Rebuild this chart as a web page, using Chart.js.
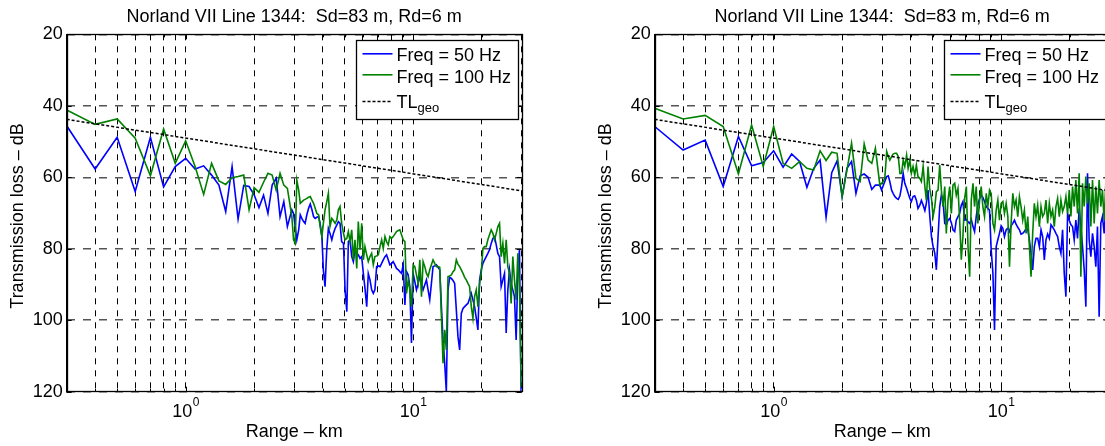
<!DOCTYPE html>
<html><head><meta charset="utf-8">
<script src="https://cdn.jsdelivr.net/npm/chart.js@4.4.1/dist/chart.umd.min.js"></script>
<style>
html,body{margin:0;padding:0;background:#fff;overflow:hidden;width:1105px;height:446px;}
#wrap{position:relative;width:1105px;height:446px;overflow:hidden;background:#fff;}
.panel{position:absolute;top:0;width:560px;height:446px;}
</style></head><body>
<div id="wrap">
<div class="panel" style="left:0px"><canvas id="c1" width="560" height="446"></canvas></div>
<div class="panel" style="left:588px"><canvas id="c2" width="560" height="446"></canvas></div>
</div>
<script>
// ---- data (range in km, transmission loss in dB) ----
const ranges = [0.3,0.4,0.5,0.6,0.7,0.8,0.9,1.0,1.1,1.2,1.3,1.4,1.5,1.6,1.7,1.8,1.9,2.0,2.1,2.2,2.3,2.4,2.5,2.6,2.7,2.8,
 2.93,2.98,3.03,3.08,3.14,3.19,3.24,3.30,3.35,3.41,
 3.47,3.53,3.59,3.65,3.71,3.77,3.84,3.90,3.97,4.03,
 4.10,4.17,4.24,4.31,4.39,4.46,4.54,4.62,4.69,4.77,
 4.85,4.94,5.02,5.11,5.19,5.28,5.37,5.46,5.55,5.65,
 5.74,5.84,5.94,6.04,6.14,6.25,6.35,6.46,6.57,6.68,
 6.79,6.91,7.03,7.15,7.27,7.39,7.52,7.64,7.77,7.90,
 8.04,8.17,8.31,8.45,8.60,8.74,8.89,9.04,9.20,9.35,
 9.51,9.67,9.83,10.0,10.17,10.34,10.52,10.70,10.88,11.06,
 11.25,11.44,11.63,11.83,12.03,12.23,12.44,12.65,12.87,13.09,
 13.31,13.53,13.76,13.99,14.23,14.47,14.72,14.97,15.22,15.48,
 15.74,16.01,16.28,16.56,16.84,17.12,17.41,17.71,18.01,18.31,
 18.62,18.94,19.26,19.59,19.92,20.26,20.60,20.95,21.30,21.66,
 22.03,22.41,22.79,23.18,23.57,23.97,24.37,24.79,25.21,25.64,
 26.07,26.51,26.96,27.42,27.88,28.36,28.84,29.33,29.82];

const leftTL50 = [45.6,57.7,48.8,64.0,48.8,62.7,57.0,54.7,57.7,56.8,59.4,62.2,69.6,57.0,71.7,62.3,62.6,64.9,68.5,65.0,70.1,62.2,60.3,71.0,66.8,73.8,
 69.1,70.1,73.8,77.5,74.7,70.5,71.5,72.4,72.9,70.5,
 68.7,67.5,69.1,71.0,71.5,71.2,71.0,72.9,76.6,85.9,
 90.6,80.3,74.3,75.7,77.5,75.7,74.3,73.3,72.4,72.9,
 78.0,78.5,91.5,97.6,78.0,77.5,82.2,83.6,80.3,81.3,
 81.7,82.7,82.2,86.9,91.0,96.2,86.9,88.7,91.5,92.5,
 91.5,85.0,84.8,85.0,84.1,83.1,82.2,81.7,83.1,84.5,
 84.1,83.6,84.5,85.5,85.9,86.4,86.9,84.5,95.7,86.4,
 87.3,90.6,106.4,86.9,89.2,91.5,89.7,87.8,89.7,91.5,
 90.1,88.7,91.5,94.3,89.7,85.0,84.8,84.5,85.2,85.9,
 96.2,105.5,112.0,120.0,91.5,88.0,88.3,88.9,89.7,97.1,
 104.6,108.3,98.1,96.7,96.2,95.7,95.3,93.9,92.5,94.3,
 96.2,99.4,102.7,88.7,85.9,84.1,83.1,82.2,81.3,80.3,
 78.5,77.1,76.6,78.9,81.3,82.2,90.6,88.7,86.9,103.6,
 91.5,85.9,89.7,91.5,93.4,105.5,86.9,80.3,120.0];

const leftTL100 = [41.2,45.2,43.7,49.1,59.6,46.5,56.1,49.8,57.0,64.8,56.1,61.0,62.0,60.1,59.8,59.4,69.1,62.9,64.2,61.4,58.9,59.4,63.6,58.9,62.2,63.1,
 71.0,77.5,78.5,60.8,63.6,67.3,66.9,66.4,66.2,65.9,
 65.6,65.4,66.4,67.3,68.7,70.1,70.5,73.8,76.6,72.9,
 69.1,66.9,64.5,73.8,71.5,72.1,72.9,71.9,69.1,68.2,
 72.9,75.7,77.5,77.1,75.2,78.0,74.7,83.1,77.5,85.5,
 72.4,80.3,72.9,83.1,79.4,81.7,83.6,82.2,81.3,84.5,
 82.2,82.0,81.7,79.4,77.5,79.9,76.6,78.0,78.9,76.6,
 77.1,76.6,75.9,75.2,74.9,74.7,76.1,77.5,78.0,92.5,
 88.7,91.5,96.2,84.5,85.0,87.3,89.7,83.1,93.4,83.6,
 85.0,86.9,87.8,85.9,84.5,83.1,84.1,85.0,85.0,85.2,
 99.0,112.0,102.7,108.3,87.8,87.6,87.3,86.4,85.9,83.1,
 84.3,85.0,85.9,86.9,88.0,88.7,89.7,90.6,96.2,99.4,
 93.4,91.5,96.2,89.7,86.9,79.9,79.4,79.4,77.5,76.1,
 74.7,75.7,77.5,75.7,73.8,72.9,82.2,78.5,84.1,77.5,
 85.0,86.9,95.3,82.2,88.7,94.3,81.3,90.6,118.6];

const rightTL50 = [45.8,52.4,49.6,62.6,48.6,56.8,55.9,52.6,57.2,53.5,55.6,62.8,57.5,55.2,71.2,58.7,55.4,65.4,57.5,55.6,64.5,59.6,59.1,60.0,63.4,62.2,
 62.2,63.6,62.4,61.2,59.8,59.6,61.2,63.6,64.5,65.4,
 65.9,66.2,65.2,62.6,58.9,61.7,63.1,64.5,65.9,66.8,
 65.4,65.2,66.4,68.7,67.8,66.5,67.8,69.3,67.3,63.6,
 70.5,76.6,79.4,81.3,85.9,76.6,68.2,65.0,66.4,72.9,
 73.3,72.0,71.5,72.7,74.7,75.2,72.0,71.0,70.1,67.8,
 66.8,72.0,71.8,72.5,72.9,71.8,73.8,75.2,71.0,67.8,
 65.9,65.0,65.6,66.8,68.2,68.7,69.2,80.3,86.9,102.7,
 79.4,77.5,75.7,73.6,74.3,76.6,74.7,74.3,75.2,73.6,
 72.9,72.0,73.1,74.0,74.7,75.9,75.7,75.2,74.3,74.6,
 77.5,81.3,85.9,79.4,77.1,77.1,79.4,74.7,76.6,83.1,
 77.5,75.9,77.1,73.3,74.0,74.7,75.7,76.6,79.4,81.3,
 74.7,86.9,93.4,70.1,72.0,73.3,73.8,77.5,72.0,77.1,
 68.7,73.8,79.4,85.9,96.2,58.9,77.5,82.2,75.7,79.4,
 85.0,73.8,99.0,72.9,71.0,75.7,68.2,77.5,72.0];

const rightTL100 = [40.7,43.7,42.7,45.8,59.1,45.4,57.0,45.8,56.1,57.5,55.6,57.5,58.0,52.6,55.3,53.0,53.3,65.4,58.0,50.5,60.3,61.2,50.7,55.2,56.1,51.9,
 62.2,61.7,61.2,60.3,52.8,54.2,55.2,54.2,53.5,53.3,
 53.3,54.2,58.9,58.9,55.2,57.0,53.8,57.5,55.2,58.9,
 57.0,59.4,56.6,59.8,60.3,61.2,57.0,62.6,66.4,57.0,
 63.1,65.9,71.0,68.2,64.0,63.6,56.6,63.6,68.2,62.6,
 75.7,66.4,62.6,70.1,62.2,61.7,65.0,63.1,72.0,83.1,
 76.6,65.9,62.6,79.4,87.8,66.4,61.7,68.2,62.6,72.9,
 66.4,62.6,68.2,71.0,64.5,68.2,63.6,64.5,72.9,74.7,
 69.2,66.4,72.0,67.3,66.8,70.1,67.3,71.0,85.0,72.9,
 64.5,68.2,66.4,71.0,65.4,68.2,72.0,69.2,75.7,71.0,
 79.4,87.8,75.7,67.3,71.0,67.8,73.8,68.2,71.0,70.1,
 66.4,72.9,67.3,71.0,69.2,73.8,68.2,65.9,71.0,66.4,
 69.6,68.2,65.4,70.1,63.6,71.0,62.6,68.2,60.8,70.1,
 58.9,87.8,61.7,68.2,59.8,67.3,61.7,73.8,60.8,72.9,
 62.6,70.1,60.8,68.2,63.6,72.0,61.7,69.2,62.6];

// geometric spreading reference line (straight on a log range axis): end points
const geoRange = [0.3, 30];
const geoTL = [43.8, 63.8];

const xGridTicks = [0.3,0.4,0.5,0.6,0.7,0.8,0.9,1,2,3,4,5,6,7,8,9,10,20,30];
const xLabelTicks = [1, 10];
const xLabelExp = ['0', '1'];
const yTicks = [20, 40, 60, 80, 100, 120];

const titleText = 'Norland VII Line 1344:  Sd=83 m, Rd=6 m';
const xTitle = 'Range \u2013 km';
const yTitle = 'Transmission loss \u2013 dB';
const legendItems = [
  {label: 'Freq = 50 Hz', sub: '', color: '#0000ff', dash: []},
  {label: 'Freq = 100 Hz', sub: '', color: '#008000', dash: []},
  {label: 'TL', sub: 'geo', color: '#000000', dash: [3, 2]}
];

const FONT = "'Liberation Sans', Arial, Helvetica, sans-serif";

function pts(xs, ys) { return xs.map((x, i) => ({x: x, y: ys[i]})); }

function hline(ctx, x1, y1, x2, y2) { ctx.beginPath(); ctx.moveTo(x1, y1); ctx.lineTo(x2, y2); ctx.stroke(); }

const overlay = {
  id: 'overlay',
  afterDraw(chart) {
    const ctx = chart.ctx, a = chart.chartArea, xs = chart.scales.x, ys = chart.scales.y;
    ctx.save();
    ctx.setLineDash([]);
    ctx.strokeStyle = '#000';
    ctx.lineWidth = 1;
    // inward tick marks
    yTicks.forEach(v => {
      const py = Math.round(ys.getPixelForValue(v)) + 0.5;
      hline(ctx, a.left, py, a.left + 5, py);
      hline(ctx, a.right, py, a.right - 5, py);
    });
    xGridTicks.forEach(v => {
      const px = Math.round(xs.getPixelForValue(v)) + 0.5;
      const L = (v === 1 || v === 10) ? 5 : 3;
      hline(ctx, px, a.bottom, px, a.bottom - L);
      hline(ctx, px, a.top, px, a.top + L);
    });
    // axes box
    ctx.lineWidth = 1.3;
    ctx.strokeRect(Math.round(a.left) + 0.5, Math.round(a.top) + 0.5, Math.round(a.right - a.left), Math.round(a.bottom - a.top));

    ctx.fillStyle = '#000';
    // title
    ctx.font = '18px ' + FONT;
    ctx.textAlign = 'center';
    ctx.textBaseline = 'alphabetic';
    ctx.fillText(titleText, (a.left + a.right) / 2, 21.5);
    // x title
    ctx.fillText(xTitle, (a.left + a.right) / 2, 437);
    // x tick labels 10^n
    xLabelTicks.forEach((v, i) => {
      const px = xs.getPixelForValue(v);
      ctx.font = '18px ' + FONT;
      const w1 = ctx.measureText('10').width;
      ctx.font = '12px ' + FONT;
      const w2 = ctx.measureText(xLabelExp[i]).width;
      const start = px - (w1 + w2) / 2;
      ctx.textAlign = 'left';
      ctx.font = '18px ' + FONT;
      ctx.fillText('10', start, 416.5);
      ctx.font = '12px ' + FONT;
      ctx.fillText(xLabelExp[i], start + w1 + 0.5, 406);
    });
    // y title
    ctx.save();
    ctx.font = '18px ' + FONT;
    ctx.textAlign = 'center';
    ctx.textBaseline = 'middle';
    ctx.translate(18, (a.top + a.bottom) / 2 + 3);
    ctx.rotate(-Math.PI / 2);
    ctx.fillText(yTitle, 0, 0);
    ctx.restore();

    // legend
    const lx = Math.round(a.right - 166) + 0.5, ly = Math.round(a.top + 5.7) + 0.5;
    const lw = 161.6, lh = 79.3;
    ctx.fillStyle = '#fff';
    ctx.fillRect(lx, ly, lw, lh);
    ctx.strokeStyle = '#000';
    ctx.lineWidth = 1.3;
    ctx.strokeRect(lx, ly, Math.round(lw), Math.round(lh));
    const lineY = [13.3, 34.3, 61];
    const textY = [20, 42.3, 67.3];
    legendItems.forEach((it, i) => {
      ctx.save();
      ctx.strokeStyle = it.color;
      ctx.lineWidth = it.dash.length ? 1.5 : 1.6;
      ctx.setLineDash(it.dash);
      hline(ctx, lx + 6, ly + lineY[i], lx + 36, ly + lineY[i]);
      ctx.restore();
      ctx.fillStyle = '#000';
      ctx.textAlign = 'left';
      ctx.textBaseline = 'alphabetic';
      ctx.font = '18px ' + FONT;
      ctx.fillText(it.label, lx + 40, ly + textY[i]);
      if (it.sub) {
        const w = ctx.measureText(it.label).width;
        ctx.font = '13px ' + FONT;
        ctx.fillText(it.sub, lx + 40 + w, ly + textY[i] + 3.7);
      }
    });
    ctx.restore();
  }
};

function makeChart(id, tl50, tl100) {
  return new Chart(document.getElementById(id), {
    type: 'line',
    data: {
      datasets: [
        {label: 'Freq = 50 Hz', data: pts(ranges, tl50), borderColor: '#0000ff', borderWidth: 1.6, pointRadius: 0, tension: 0, fill: false, order: 2},
        {label: 'Freq = 100 Hz', data: pts(ranges, tl100), borderColor: '#008000', borderWidth: 1.6, pointRadius: 0, tension: 0, fill: false, order: 1},
        {label: 'TLgeo', data: pts(geoRange, geoTL), borderColor: '#000000', borderWidth: 1.5, borderDash: [3, 2], pointRadius: 0, tension: 0, fill: false, order: 0}
      ]
    },
    options: {
      responsive: false,
      devicePixelRatio: 1,
      animation: false,
      events: [],
      layout: {padding: {left: 0, right: 38.3, top: 34.3, bottom: 0}},
      plugins: {legend: {display: false}, title: {display: false}, tooltip: {enabled: false}},
      scales: {
        x: {
          type: 'logarithmic',
          min: 0.3, max: 30,
          afterBuildTicks: (s) => { s.ticks = xGridTicks.map(v => ({value: v})); },
          afterFit: (s) => { s.height = 54.3; },
          ticks: {display: false},
          grid: {display: true, drawTicks: false, color: '#000', lineWidth: 1},
          border: {display: true, color: '#000', width: 1, dash: [6, 6]}
        },
        y: {
          type: 'linear',
          reverse: true,
          min: 20, max: 120,
          afterBuildTicks: (s) => { s.ticks = yTicks.map(v => ({value: v})); },
          afterFit: (s) => { s.width = 66.7; },
          ticks: {color: '#000', padding: 4, font: {family: FONT, size: 18}},
          grid: {display: true, drawTicks: false, color: '#555555', lineWidth: 1.5},
          border: {display: true, color: '#000', width: 1, dash: [8, 8]}
        }
      }
    },
    plugins: [overlay]
  });
}

makeChart('c1', leftTL50, leftTL100);
makeChart('c2', rightTL50, rightTL100);
</script>
</body></html>
